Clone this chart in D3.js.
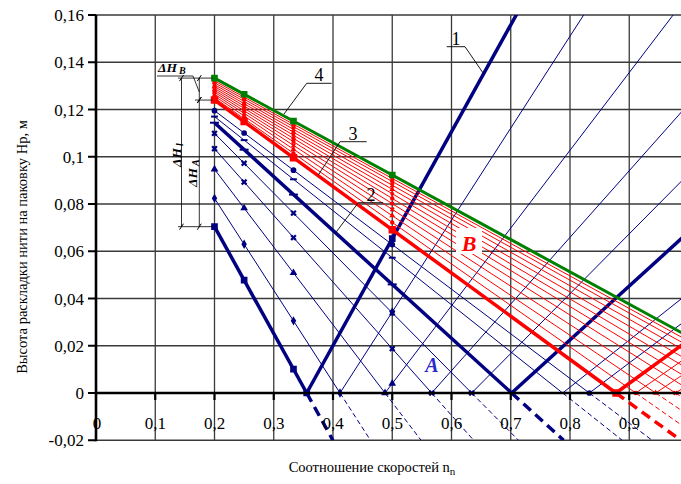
<!DOCTYPE html>
<html>
<head>
<meta charset="utf-8">
<script src="https://cdn.jsdelivr.net/npm/d3@7"></script>
<style>
  body { margin: 0; background: #fff; }
  svg text { font-family: 'Liberation Serif', 'DejaVu Serif', serif; }
</style>
</head>
<body>
<svg></svg>
<script>
// axis ticks
var xTicks = [0, 0.1, 0.2, 0.3, 0.4, 0.5, 0.6, 0.7, 0.8, 0.9];
var xTickLabels = ["0", "0,1", "0,2", "0,3", "0,4", "0,5", "0,6", "0,7", "0,8", "0,9"];
var yTicks = [-0.02, 0, 0.02, 0.04, 0.06, 0.08, 0.1, 0.12, 0.14, 0.16];
var yTickLabels = ["-0,02", "0", "0,02", "0,04", "0,06", "0,08", "0,1", "0,12", "0,14", "0,16"];

// speed ratios where the points are marked
var markN = [0.2, 0.25, 0.3333, 0.5];

// blue family (zone A): Hp at n = 0.2 and the n where Hp falls to zero
var blueH0 = [0.0704, 0.0824, 0.0947, 0.1034, 0.1099, 0.1144, 0.1170, 0.1195];
var blueN0 = [0.3556, 0.4118, 0.4878, 0.5665, 0.6340, 0.7015, 0.7876, 0.8326];
var blueThick = [1, 0, 0, 0, 0, 1, 0, 0];
var blueMark = ["square", "diamond", "triangle", "times", "times", "dash", "dash", "circle"];

// red family (zone B), first one is curve 3
var redH0 = [0.1240, 0.1249, 0.1257, 0.1265, 0.1273, 0.1281, 0.1289, 0.1297, 0.1305, 0.1313, 0.1321];
var redN0 = [0.8776, 0.9110, 0.9446, 0.9780, 1.0100, 1.0400, 1.0680, 1.0950, 1.1200, 1.1430, 1.1600];
var redThick = [1, 0, 0, 0, 0, 0, 0, 0, 0, 0, 0];
var redMark = ["square", "circle", "triangle", "times", "square", "circle", "diamond", "triangle", "times", "circle", "square"];

// curve 4
var greenH0 = 0.1333;
var greenN0 = 1.175;

var W = 681, H = 484;
var serif = "'Liberation Serif', 'DejaVu Serif', serif";
var x = d3.scaleLinear().domain([0, 1]).range([96, 688.5]);
var y = d3.scaleLinear().domain([-0.02, 0.16]).range([440.25, 15]);

var svg = d3.select("svg")
    .attr("width", W)
    .attr("height", H)
    .attr("font-family", serif);

svg.append("defs").append("clipPath").attr("id", "plot")
  .append("rect")
    .attr("x", x(0)).attr("y", y(0.16))
    .attr("width", W - x(0)).attr("height", y(-0.02) - y(0.16));

// grid
svg.selectAll(".vgrid").data(xTicks.slice(1)).enter().append("line")
    .attr("x1", d => x(d)).attr("x2", d => x(d))
    .attr("y1", y(0.16)).attr("y2", y(-0.02))
    .attr("stroke", "#3a3a3a").attr("stroke-width", 1.3);
svg.selectAll(".hgrid").data(yTicks).enter().append("line")
    .attr("x1", x(0)).attr("x2", W)
    .attr("y1", d => y(d)).attr("y2", d => y(d))
    .attr("stroke", "#3a3a3a").attr("stroke-width", 1.3);

var plot = svg.append("g").attr("clip-path", "url(#plot)");
var line = d3.line().x(d => x(d[0])).y(d => y(d[1]));

function drawFamily(h0s, n0s, thick, color, dashThin, dashThick) {
  h0s.forEach(function(h0, i) {
    var n0 = n0s[i], s = h0 / (n0 - 0.2);
    var w = thick[i] ? 3.5 : 1;
    // falling part
    plot.append("path").attr("d", line([[0.2, h0], [n0, 0]]))
        .attr("fill", "none").attr("stroke", color).attr("stroke-width", w);
    // continuation below zero
    plot.append("path").attr("d", line([[n0, 0], [n0 + 0.02 / s, -0.02]]))
        .attr("fill", "none").attr("stroke", color).attr("stroke-width", w)
        .attr("stroke-dasharray", thick[i] ? dashThick : dashThin);
    // reflected rising part
    plot.append("path").attr("d", line([[n0, 0], [n0 + 0.2 / s, 0.2]]))
        .attr("fill", "none").attr("stroke", color).attr("stroke-width", w);
  });
}

drawFamily(blueH0, blueN0, blueThick, "#000080", "5,3", "10,6");
drawFamily(redH0, redN0, redThick, "#ff0000", "5,3", "10,6");

plot.append("path")
    .attr("d", line([[0.2, greenH0], [greenN0, 0]]))
    .attr("fill", "none").attr("stroke", "#008000").attr("stroke-width", 3);

// markers
function marker(g, type, px, py, size, color) {
  if (type == "dash") {
    g.append("rect").attr("x", px - size).attr("y", py - 1)
      .attr("width", size * 2).attr("height", 2).attr("fill", color);
    return;
  }
  var t = { square: d3.symbolSquare, diamond: d3.symbolDiamond, triangle: d3.symbolTriangle,
            circle: d3.symbolCircle, times: d3.symbolCross }[type];
  g.append("path")
    .attr("d", d3.symbol().type(t).size(size * size * 2.2)())
    .attr("transform", "translate(" + px + "," + py + ")" + (type == "times" ? " rotate(45)" : ""))
    .attr("fill", color);
}

var marks = svg.append("g").attr("clip-path", "url(#plot)");
function markFamily(h0s, n0s, thick, types, color, sz, szThick) {
  h0s.forEach(function(h0, i) {
    var n0 = n0s[i], s = h0 / (n0 - 0.2);
    var size = thick[i] ? szThick : sz;
    markN.forEach(function(n) {
      marker(marks, types[i], x(n), y(Math.abs(h0 - s * (n - 0.2))), size, color);
    });
    marker(marks, types[i], x(n0), y(0), size, color);
  });
}
markFamily(blueH0, blueN0, blueThick, blueMark, "#000080", 3.4, 4.5);
markFamily(redH0, redN0, redThick, redMark, "#ff0000", 2.6, 5);
markN.forEach(function(n) {
  marker(marks, "square", x(n), y(greenH0 - greenH0 / (greenN0 - 0.2) * (n - 0.2)), 4.5, "#008000");
});

// axes
svg.append("line").attr("x1", x(0)).attr("x2", W).attr("y1", y(0)).attr("y2", y(0))
    .attr("stroke", "#000").attr("stroke-width", 2.6);
svg.append("line").attr("x1", x(0)).attr("x2", x(0)).attr("y1", y(0.16)).attr("y2", y(-0.02) + 1)
    .attr("stroke", "#000").attr("stroke-width", 2.6);

svg.selectAll(".xtick").data(xTicks.slice(1)).enter().append("line")
    .attr("x1", d => x(d)).attr("x2", d => x(d))
    .attr("y1", y(0)).attr("y2", y(0) + 7)
    .attr("stroke", "#000").attr("stroke-width", 2.2);
svg.selectAll(".xlab").data(xTicks).enter().append("text")
    .attr("x", d => x(d) + (d == 0 ? 1 : 0)).attr("y", 429)
    .attr("text-anchor", "middle").attr("font-size", 17)
    .attr("font-family", serif)
    .text((d, i) => xTickLabels[i]);

svg.selectAll(".ytick").data(yTicks).enter().append("line")
    .attr("x1", x(0) - 8).attr("x2", x(0))
    .attr("y1", d => y(d)).attr("y2", d => y(d))
    .attr("stroke", "#000").attr("stroke-width", 2);
svg.selectAll(".ylab").data(yTicks).enter().append("text")
    .attr("x", 84).attr("y", d => y(d) + 6)
    .attr("text-anchor", "end").attr("font-size", 17)
    .attr("font-family", serif)
    .text((d, i) => yTickLabels[i]);

// axis titles
svg.append("text")
    .attr("transform", "translate(27,247) rotate(-90)")
    .attr("text-anchor", "middle").attr("font-size", 14.5)
    .attr("font-family", serif)
    .text("Высота раскладки нити на паковку  Hp, м");
var xt = svg.append("text").attr("x", 372).attr("y", 472)
    .attr("text-anchor", "middle").attr("font-size", 14.5)
    .attr("font-family", serif);
xt.append("tspan").text("Соотношение скоростей  n");
xt.append("tspan").attr("font-size", 11).attr("dy", 3).text("n");

// dimension marks on the left
var dimCol = "#000";
[[greenH0, 178], [redH0[0], 195], [blueH0[0], 178]].forEach(function(d) {
  svg.append("line").attr("x1", d[1]).attr("x2", x(0.2) - 2)
      .attr("y1", y(d[0])).attr("y2", y(d[0]))
      .attr("stroke", dimCol).attr("stroke-width", 0.8);
});
function dim(px, h1, h2) {
  svg.append("line").attr("x1", px).attr("x2", px).attr("y1", y(h1)).attr("y2", y(h2))
      .attr("stroke", dimCol).attr("stroke-width", 0.8);
  [h1, h2].forEach(function(h) {
    svg.append("line").attr("x1", px - 2).attr("x2", px + 2)
        .attr("y1", y(h) + 3).attr("y2", y(h) - 3)
        .attr("stroke", dimCol).attr("stroke-width", 1);
  });
}
dim(181.5, greenH0, blueH0[0]);
dim(199.3, redH0[0], blueH0[0]);
dim(199.3, greenH0, redH0[0]);

function dh(g, sub) {
  g.attr("font-size", 13.5).attr("font-weight", "bold").attr("font-style", "italic")
   .attr("font-family", serif);
  g.append("tspan").text("ΔH");
  g.append("tspan").attr("font-size", 10).attr("dy", 2).attr("dx", 2).text(sub);
}
dh(svg.append("text").attr("x", 158).attr("y", 72), "B");
svg.append("path").attr("d", "M157,76H193L199.3,92")
    .attr("fill", "none").attr("stroke", dimCol).attr("stroke-width", 0.8);
dh(svg.append("text").attr("transform", "translate(181,167) rotate(-90)"), "l");
dh(svg.append("text").attr("transform", "translate(197,187) rotate(-90)"), "A");

// curve numbers with leaders
var callouts = [
  ["1", 456, 45, "M446.7,46.7H465M465,46.7L483.3,73.3"],
  ["2", 371, 201, "M358.3,202.7H383.3M358.3,202.7L335.7,232.7"],
  ["3", 353, 140, "M340,141.7H366.7M340,141.7L318.3,175"],
  ["4", 319, 81, "M306.7,83.3H331.7M306.7,83.3L284,114"]
];
callouts.forEach(function(c) {
  svg.append("path").attr("d", c[3]).attr("fill", "none")
      .attr("stroke", "#000").attr("stroke-width", 0.9);
  svg.append("text").attr("x", c[1]).attr("y", c[2])
      .attr("text-anchor", "middle").attr("font-size", 18)
      .attr("font-family", serif).text(c[0]);
});

// zone letters
svg.append("rect").attr("x", 456).attr("y", 228).attr("width", 26).attr("height", 26).attr("fill", "#fff");
svg.append("text").attr("x", 469).attr("y", 251).attr("text-anchor", "middle")
    .attr("font-size", 22).attr("font-weight", "bold").attr("font-style", "italic")
    .attr("font-family", serif)
    .attr("fill", "#ff0000").text("B");
svg.append("text").attr("x", 432).attr("y", 372).attr("text-anchor", "middle")
    .attr("font-size", 20).attr("font-weight", "bold").attr("font-style", "italic")
    .attr("font-family", serif)
    .attr("fill", "#2a2ad0").text("A");
</script>
</body>
</html>
